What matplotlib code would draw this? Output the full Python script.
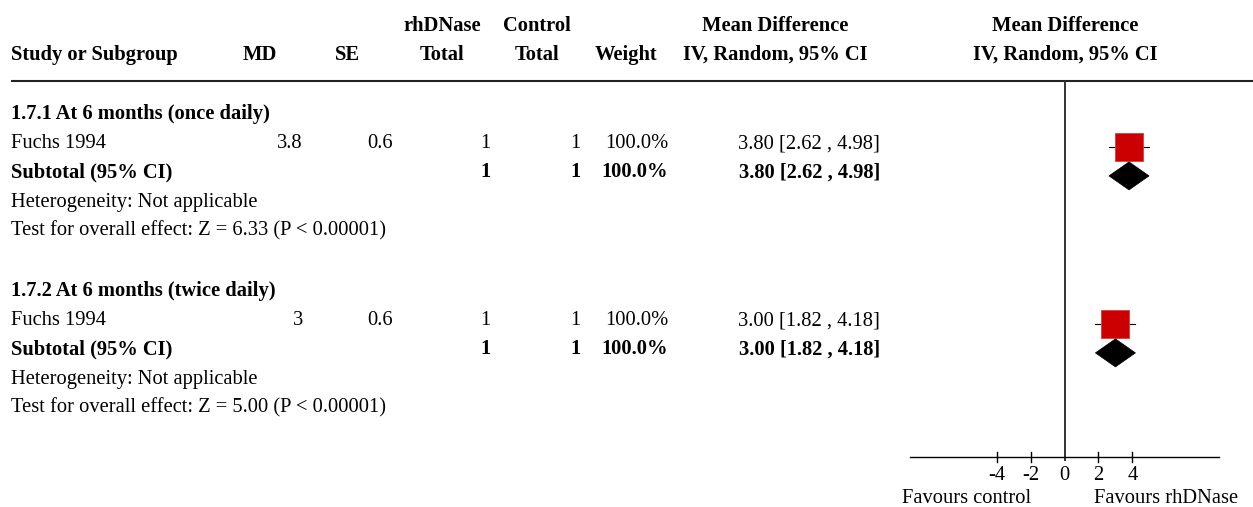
import matplotlib
matplotlib.use("Agg")
import matplotlib.pyplot as plt
from matplotlib.patches import Polygon

plt.rcParams['font.family'] = ['Liberation Serif', 'DejaVu Serif']

# ---------------- data ----------------
subgroups = ["1.7.1 At 6 months (once daily)", "1.7.2 At 6 months (twice daily)"]
studies = ["Fuchs 1994", "Fuchs 1994"]
md = [3.8, 3.0]
se = [0.6, 0.6]
n_rhdnase = [1, 1]
n_control = [1, 1]
weight = [100.0, 100.0]
ci_lo = [2.62, 1.82]
ci_hi = [4.98, 4.18]
sub_md = [3.80, 3.00]
sub_lo = [2.62, 1.82]
sub_hi = [4.98, 4.18]
z_vals = [6.33, 5.00]
p_text = ["P < 0.00001", "P < 0.00001"]
tick_vals = [-4, -2, 0, 2, 4]
tick_labels = ["-4", "-2", "0", "2", "4"]
fav_left = "Favours control"
fav_right = "Favours rhDNase"

W, H = 1253, 507
DPI = 100
FS = 14.8
RED = "#CC0000"

fig = plt.figure(figsize=(W / DPI, H / DPI), dpi=DPI)
fig.patch.set_facecolor("white")

# text axes in pixel coordinates
tx = fig.add_axes([0, 0, 1, 1])
tx.set_xlim(0, W)
tx.set_ylim(H, 0)
tx.axis("off")

# forest axes: x in MD units, y in pixel rows
fx_left, fx_right = 910, 1219
fx = fig.add_axes([fx_left / W, 0, (fx_right - fx_left) / W, 1])
fx.set_xlim(-9.1, 9.1)
fx.set_ylim(H, 0)
fx.axis("off")

def t(x, y, s, ha="left", bold=False):
    tx.text(x, y, s, ha=ha, va="baseline", fontsize=FS,
            fontweight="bold" if bold else "normal", color="black")

# column positions
X_STUDY = 11
X_MD_H, X_MD_V = 260, 303
X_SE_H, X_SE_V = 347.5, 393
X_T_H, X_T_V = 442.5, 490
X_C_H, X_C_V = 537, 580
X_W_H, X_W_V = 626, 668
X_CI_H, X_CI_V = 775, 880
X_PLOT_H = 1065

# headers
HY1, HY2 = 31, 60
t(X_T_H, HY1, "rhDNase", "center", True)
t(X_C_H, HY1, "Control", "center", True)
t(X_CI_H, HY1, "Mean Difference", "center", True)
t(X_PLOT_H, HY1, "Mean Difference", "center", True)
t(X_STUDY, HY2, "Study or Subgroup", "left", True)
t(X_MD_H, HY2, "MD", "center", True)
t(X_SE_H, HY2, "SE", "center", True)
t(X_T_H, HY2, "Total", "center", True)
t(X_C_H, HY2, "Total", "center", True)
t(X_W_H, HY2, "Weight", "center", True)
t(X_CI_H, HY2, "IV, Random, 95% CI", "center", True)
t(X_PLOT_H, HY2, "IV, Random, 95% CI", "center", True)
tx.plot([11, W], [81, 81], color="#222222", lw=1.5, solid_capstyle="butt")

ROW0 = 119
STEP = 29.2
GROUP_STEP = 177
MARK_OFF = -1.5

for g in range(len(subgroups)):
    base = ROW0 + g * GROUP_STEP
    y_head = base
    y_study = base + STEP
    y_sub = base + 2 * STEP
    y_het = base + 3 * STEP
    y_test = base + 4 * STEP

    t(X_STUDY, y_head, subgroups[g], bold=True)

    t(X_STUDY, y_study, studies[g])
    t(X_MD_V, y_study, f"{md[g]:g}", "right")
    t(X_SE_V, y_study, f"{se[g]:g}", "right")
    t(X_T_V, y_study, f"{n_rhdnase[g]}", "right")
    t(X_C_V, y_study, f"{n_control[g]}", "right")
    t(X_W_V, y_study, f"{weight[g]:.1f}%", "right")
    t(X_CI_V, y_study, f"{md[g]:.2f} [{ci_lo[g]:.2f} , {ci_hi[g]:.2f}]", "right")

    t(X_STUDY, y_sub, "Subtotal (95% CI)", bold=True)
    t(X_T_V, y_sub, f"{n_rhdnase[g]}", "right", True)
    t(X_C_V, y_sub, f"{n_control[g]}", "right", True)
    t(X_W_V, y_sub, f"{weight[g]:.1f}%", "right", True)
    t(X_CI_V, y_sub, f"{sub_md[g]:.2f} [{sub_lo[g]:.2f} , {sub_hi[g]:.2f}]", "right", True)

    t(X_STUDY, y_het, "Heterogeneity: Not applicable")
    t(X_STUDY, y_test, f"Test for overall effect: Z = {z_vals[g]:.2f} ({p_text[g]})")

    # study CI + square
    ys = y_study + MARK_OFF
    fx.plot([ci_lo[g], ci_hi[g]], [ys, ys], color="black", lw=0.8, zorder=2)
    fx.plot([md[g]], [ys], marker="s", markersize=20, color=RED,
            markeredgecolor="#E03A3A", markeredgewidth=0.6, linestyle="none", zorder=3)

    # subtotal diamond
    yd = y_sub + MARK_OFF
    hh = 14
    fx.add_patch(Polygon([(sub_lo[g], yd), (sub_md[g], yd - hh),
                          (sub_hi[g], yd), (sub_md[g], yd + hh)],
                         closed=True, facecolor="black", edgecolor="black",
                         lw=0.5, zorder=3))

# axis
AX_Y = 457
fx.plot([0, 0], [82, 460], color="#333333", lw=1.4, zorder=1, clip_on=False)
fx.plot([-9.1, 9.1], [AX_Y, AX_Y], color="black", lw=1.0, clip_on=False)
for v, lab in zip(tick_vals, tick_labels):
    if v != 0:
        fx.plot([v, v], [AX_Y - 5, AX_Y + 5], color="black", lw=1.0, clip_on=False)
    fx.text(v, 480, lab, ha="center", va="baseline", fontsize=FS, clip_on=False)

t(967, 503, fav_left, "center")
t(1166.5, 503, fav_right, "center")

fig.savefig("out.png", dpi=DPI, facecolor="white")
